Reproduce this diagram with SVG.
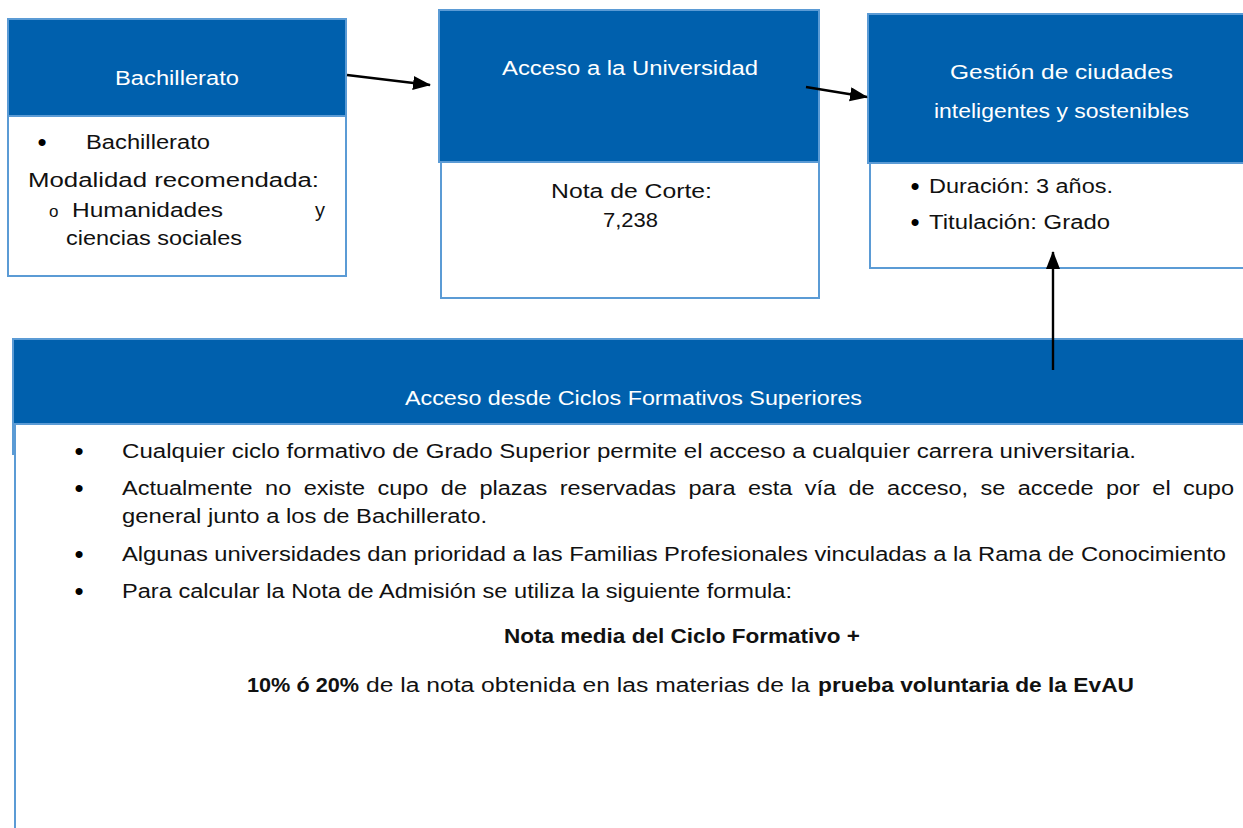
<svg xmlns="http://www.w3.org/2000/svg" width="1243" height="828" viewBox="0 0 1243 828">
<style>
.hdr{fill:#0060ad;stroke:#5b9bd5;stroke-width:2}
.body{fill:#ffffff;stroke:#5b9bd5;stroke-width:2}
.edge{stroke:#5b9bd5;stroke-width:2;fill:none}
.ht{font-family:"Liberation Sans",Arial,sans-serif;font-size:20px;fill:#ffffff}
.t{font-family:"Liberation Sans",Arial,sans-serif;font-size:20px;fill:#111111}
.bl{font-family:"Liberation Sans",Arial,sans-serif;font-size:26px;fill:#000000;text-anchor:middle}
.b{font-family:"Liberation Sans",Arial,sans-serif;font-size:19.5px;fill:#111111;font-weight:bold}
.conn{stroke:#000;stroke-width:2.4;fill:none}
</style>
<defs>
<marker id="ah" markerUnits="userSpaceOnUse" markerWidth="20" markerHeight="16" refX="17" refY="7" orient="auto">
<path d="M0,0 L18,7 L0,14 z" fill="#000"/>
</marker>
</defs>
<rect width="1243" height="828" fill="#ffffff"/>

<g id="bachillerato">
<rect class="body" x="8" y="116" width="338" height="160"/>
<rect class="hdr" x="8" y="19" width="338" height="97"/>
<line class="edge" x1="346" y1="116" x2="346" y2="178"/>
<text class="ht" x="115" y="85" textLength="124" lengthAdjust="spacingAndGlyphs">Bachillerato</text>
<text class="bl" x="42" y="151">•</text>
<text class="t" x="86" y="149" textLength="124" lengthAdjust="spacingAndGlyphs">Bachillerato</text>
<text class="t" x="28" y="187" textLength="291" lengthAdjust="spacingAndGlyphs">Modalidad recomendada:</text>
<text class="t" x="49" y="217" style="font-size:17px">o</text>
<text class="t" x="72" y="217" textLength="151" lengthAdjust="spacingAndGlyphs">Humanidades</text>
<text class="t" x="315" y="217">y</text>
<text class="t" x="66" y="245" textLength="176" lengthAdjust="spacingAndGlyphs">ciencias sociales</text>
</g>

<g id="acceso-universidad">
<rect class="body" x="441" y="162" width="378" height="136"/>
<rect class="hdr" x="439" y="10" width="380" height="152"/>
<text class="ht" x="502" y="75" textLength="256" lengthAdjust="spacingAndGlyphs">Acceso a la Universidad</text>
<text class="t" x="551" y="198" textLength="161" lengthAdjust="spacingAndGlyphs">Nota de Corte:</text>
<text class="t" x="603" y="227" textLength="55" lengthAdjust="spacingAndGlyphs">7,238</text>
</g>

<g id="gestion">
<rect class="body" x="870" y="163" width="380" height="105"/>
<rect class="hdr" x="868" y="14" width="382" height="149"/>
<text class="ht" x="950" y="79" textLength="223" lengthAdjust="spacingAndGlyphs">Gestión de ciudades</text>
<text class="ht" x="934" y="118" textLength="255" lengthAdjust="spacingAndGlyphs">inteligentes y sostenibles</text>
<text class="bl" x="915" y="195">•</text>
<text class="t" x="929" y="193" textLength="184" lengthAdjust="spacingAndGlyphs">Duración: 3 años.</text>
<text class="bl" x="915" y="231">•</text>
<text class="t" x="929" y="229" textLength="181" lengthAdjust="spacingAndGlyphs">Titulación: Grado</text>
</g>

<g id="ciclos">
<rect class="body" x="15" y="424" width="1240" height="420"/>
<rect class="hdr" x="13" y="339" width="1242" height="85"/>
<line class="edge" x1="13" y1="424" x2="13" y2="455"/>
<text class="ht" x="405" y="405" textLength="457" lengthAdjust="spacingAndGlyphs">Acceso desde Ciclos Formativos Superiores</text>
<text class="bl" x="79" y="460">•</text>
<text class="t" x="122" y="458" textLength="1014" lengthAdjust="spacingAndGlyphs">Cualquier ciclo formativo de Grado Superior permite el acceso a cualquier carrera universitaria.</text>
<text class="bl" x="79" y="497">•</text>
<text class="t" x="122" y="495" textLength="1112" lengthAdjust="spacingAndGlyphs" word-spacing="5">Actualmente no existe cupo de plazas reservadas para esta vía de acceso, se accede por el cupo</text>
<text class="t" x="122" y="523" textLength="365" lengthAdjust="spacingAndGlyphs">general junto a los de Bachillerato.</text>
<text class="bl" x="79" y="563">•</text>
<text class="t" x="122" y="561" textLength="1104" lengthAdjust="spacingAndGlyphs">Algunas universidades dan prioridad a las Familias Profesionales vinculadas a la Rama de Conocimiento</text>
<text class="bl" x="79" y="600">•</text>
<text class="t" x="122" y="598" textLength="670" lengthAdjust="spacingAndGlyphs">Para calcular la Nota de Admisión se utiliza la siguiente formula:</text>
<text class="b" x="504" y="643" textLength="356" lengthAdjust="spacingAndGlyphs">Nota media del Ciclo Formativo +</text>
<text class="b" x="247" y="692" textLength="112" lengthAdjust="spacingAndGlyphs">10% ó 20%</text>
<text class="t" x="366" y="692" textLength="444" lengthAdjust="spacingAndGlyphs">de la nota obtenida en las materias de la</text>
<text class="b" x="818" y="692" textLength="316" lengthAdjust="spacingAndGlyphs">prueba voluntaria de la EvAU</text>
</g>

<g id="connectors">
<line class="conn" x1="347" y1="75" x2="430" y2="85" marker-end="url(#ah)"/>
<line class="conn" x1="806" y1="87" x2="867" y2="97" marker-end="url(#ah)"/>
<line class="conn" x1="1053" y1="370" x2="1053" y2="252" marker-end="url(#ah)"/>
</g>
</svg>
